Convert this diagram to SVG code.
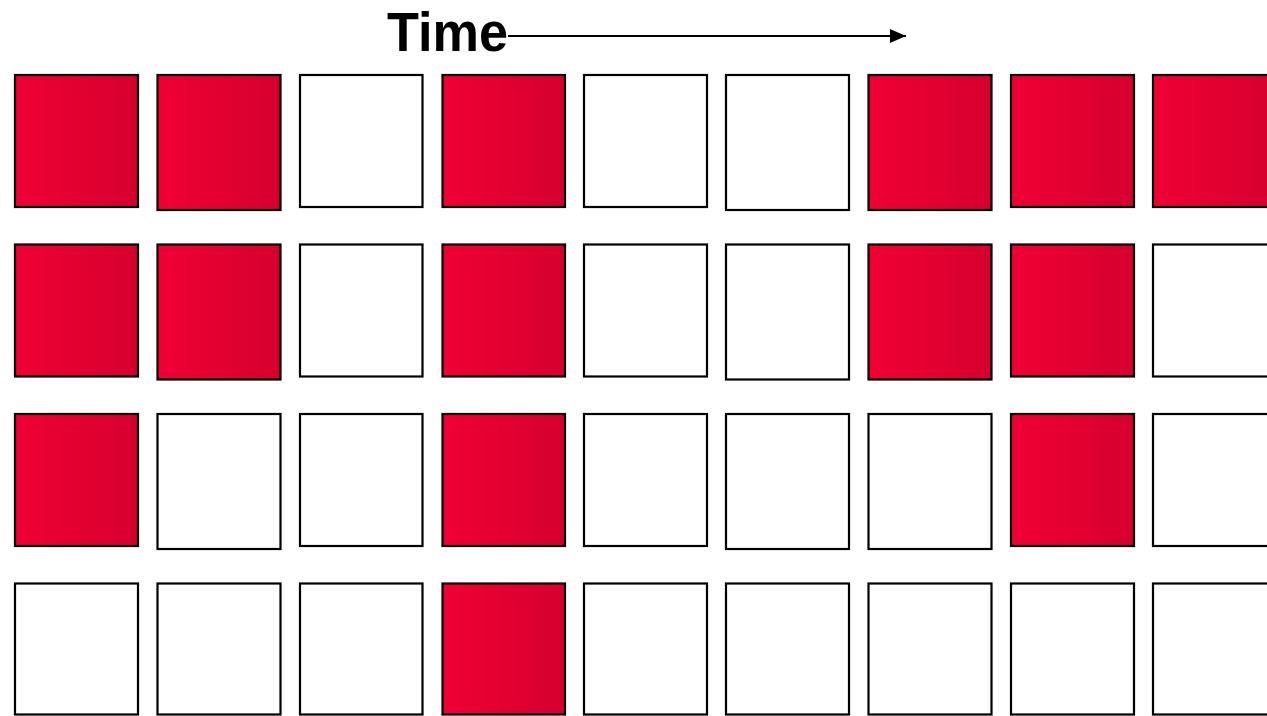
<svg xmlns="http://www.w3.org/2000/svg" width="1267" height="716" viewBox="0 0 1267 716">
<defs>
<linearGradient id="red" x1="0" y1="0" x2="1" y2="0">
<stop offset="0" stop-color="#F00034"/>
<stop offset="1" stop-color="#D5002E"/>
</linearGradient>
<marker id="arrow" markerWidth="16" markerHeight="14" refX="16" refY="7" orient="auto" markerUnits="userSpaceOnUse">
<path d="M0,0 L16,7 L0,14 Z" fill="#000"/>
</marker>
</defs>
<style>
.on,.off{stroke:#000;stroke-width:2.2}
.on{fill:url(#red)}
.off{fill:#fff}
.title{font-family:"Liberation Sans",Arial,sans-serif;font-weight:bold;font-size:56px;fill:#000}
</style>
<rect x="0" y="0" width="1267" height="716" fill="#fff"/>
<text class="title" x="387" y="51" textLength="121" lengthAdjust="spacingAndGlyphs">Time</text>
<g id="connectors">
<line x1="508" y1="36" x2="906" y2="36" stroke="#000" stroke-width="2" marker-end="url(#arrow)"/>
</g>
<g id="row1">
<rect id="r1c1" class="on" x="15" y="75" width="123" height="132"/>
<rect id="r1c2" class="on" x="157.5" y="75" width="123" height="135"/>
<rect id="r1c3" class="off" x="300" y="75" width="122.5" height="132"/>
<rect id="r1c4" class="on" x="442.5" y="75" width="122.5" height="132"/>
<rect id="r1c5" class="off" x="584" y="75" width="123" height="132"/>
<rect id="r1c6" class="off" x="726" y="75" width="123" height="135"/>
<rect id="r1c7" class="on" x="868.5" y="75" width="123" height="135"/>
<rect id="r1c8" class="on" x="1011" y="75" width="123" height="132"/>
<rect id="r1c9" class="on" x="1153" y="75" width="123" height="132"/>
</g>
<g id="row2">
<rect id="r2c1" class="on" x="15" y="244.5" width="123" height="132"/>
<rect id="r2c2" class="on" x="157.5" y="244.5" width="123" height="135"/>
<rect id="r2c3" class="off" x="300" y="244.5" width="122.5" height="132"/>
<rect id="r2c4" class="on" x="442.5" y="244.5" width="122.5" height="132"/>
<rect id="r2c5" class="off" x="584" y="244.5" width="123" height="132"/>
<rect id="r2c6" class="off" x="726" y="244.5" width="123" height="135"/>
<rect id="r2c7" class="on" x="868.5" y="244.5" width="123" height="135"/>
<rect id="r2c8" class="on" x="1011" y="244.5" width="123" height="132"/>
<rect id="r2c9" class="off" x="1153" y="244.5" width="123" height="132"/>
</g>
<g id="row3">
<rect id="r3c1" class="on" x="15" y="414" width="123" height="132"/>
<rect id="r3c2" class="off" x="157.5" y="414" width="123" height="135"/>
<rect id="r3c3" class="off" x="300" y="414" width="122.5" height="132"/>
<rect id="r3c4" class="on" x="442.5" y="414" width="122.5" height="132"/>
<rect id="r3c5" class="off" x="584" y="414" width="123" height="132"/>
<rect id="r3c6" class="off" x="726" y="414" width="123" height="135"/>
<rect id="r3c7" class="off" x="868.5" y="414" width="123" height="135"/>
<rect id="r3c8" class="on" x="1011" y="414" width="123" height="132"/>
<rect id="r3c9" class="off" x="1153" y="414" width="123" height="132"/>
</g>
<g id="row4">
<rect id="r4c1" class="off" x="15" y="583.5" width="123" height="131"/>
<rect id="r4c2" class="off" x="157.5" y="583.5" width="123" height="131"/>
<rect id="r4c3" class="off" x="300" y="583.5" width="122.5" height="131"/>
<rect id="r4c4" class="on" x="442.5" y="583.5" width="122.5" height="131"/>
<rect id="r4c5" class="off" x="584" y="583.5" width="123" height="131"/>
<rect id="r4c6" class="off" x="726" y="583.5" width="123" height="131"/>
<rect id="r4c7" class="off" x="868.5" y="583.5" width="123" height="131"/>
<rect id="r4c8" class="off" x="1011" y="583.5" width="123" height="131"/>
<rect id="r4c9" class="off" x="1153" y="583.5" width="123" height="131"/>
</g>
</svg>
